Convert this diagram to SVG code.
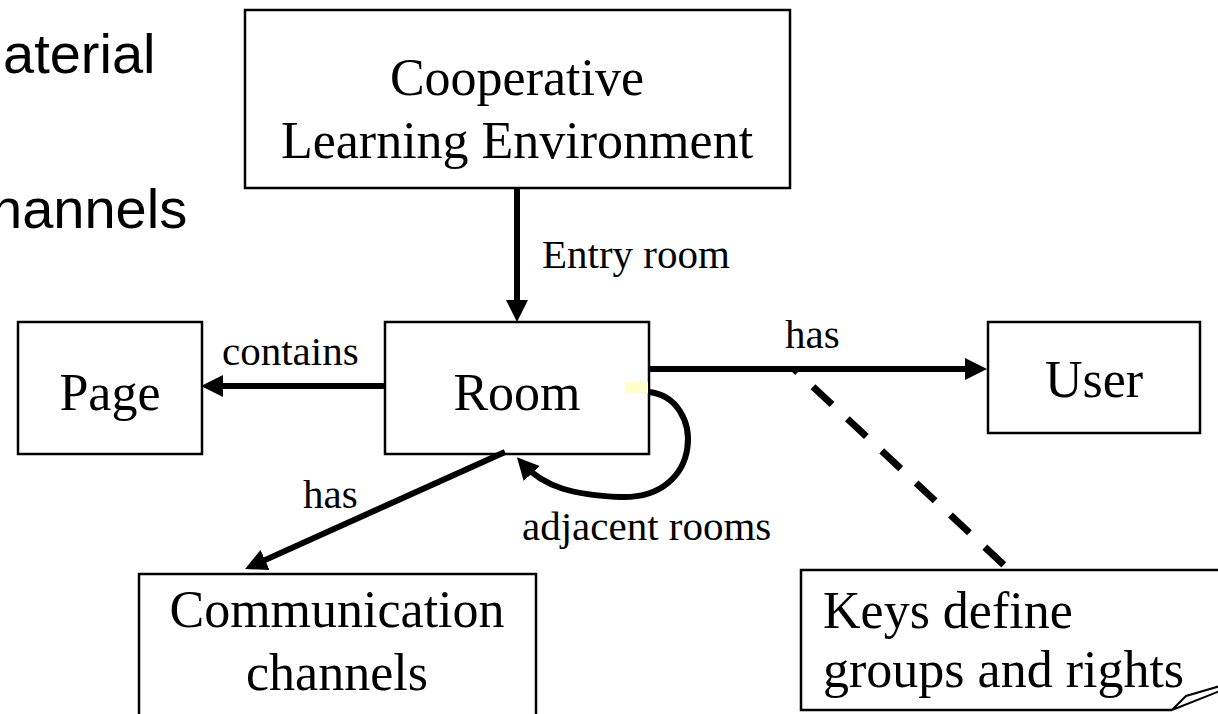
<svg xmlns="http://www.w3.org/2000/svg" width="1218" height="714" viewBox="0 0 1218 714">
<style>
.box{fill:#fff;stroke:#000;stroke-width:2.5}
.nt{font-family:"Liberation Serif","Times New Roman",serif;font-size:52px;fill:#000}
.el{font-family:"Liberation Serif","Times New Roman",serif;font-size:41px;fill:#000}
.bg{font-family:"Liberation Sans",Arial,sans-serif;font-size:56px;fill:#000}
.cn{fill:none;stroke:#000;stroke-width:6}
</style>
<defs>
<marker id="ah" viewBox="0 0 22 22" markerWidth="22" markerHeight="22" refX="13" refY="11" orient="auto" markerUnits="userSpaceOnUse">
<path d="M0,0 L22,11 L0,22 z" fill="#000"/>
</marker>
</defs>
<rect width="1218" height="714" fill="#fff"/>
<g id="bg-text">
<text class="bg" x="3" y="73">aterial</text>
<text class="bg" x="-9" y="228">hannels</text>
</g>
<g id="node-cle">
<rect class="box" x="245" y="10" width="545" height="178"/>
<text class="nt" x="517" y="95" text-anchor="middle">Cooperative</text>
<text class="nt" x="517" y="158" text-anchor="middle">Learning Environment</text>
</g>
<g id="node-room">
<rect class="box" x="385" y="322" width="264" height="132"/>
<text class="nt" x="517" y="410" text-anchor="middle">Room</text>
<rect x="625" y="382" width="23" height="11" fill="#ffffcc"/>
</g>
<g id="node-page">
<rect class="box" x="18" y="322" width="184" height="132"/>
<text class="nt" x="110" y="410" text-anchor="middle">Page</text>
</g>
<g id="node-user">
<rect class="box" x="988" y="322" width="212" height="111"/>
<text class="nt" x="1094" y="397" text-anchor="middle">User</text>
</g>
<g id="node-comm">
<rect class="box" x="139" y="574" width="397" height="160"/>
<text class="nt" x="337" y="627" text-anchor="middle">Communication</text>
<text class="nt" x="337" y="690" text-anchor="middle">channels</text>
</g>
<g id="node-keys">
<path d="M801,570 H1225 V730 H801 Z" fill="#fff"/>
<path d="M1225,570 H801 V710 H1172" fill="none" stroke="#000" stroke-width="2.5"/>
<path d="M1172,710 L1186,696 L1220,686 M1172,710 L1220,691" fill="none" stroke="#000" stroke-width="2"/>
<text class="nt" x="823" y="628">Keys define</text>
<text class="nt" x="823" y="687">groups and rights</text>
</g>
<g id="connectors">
<line class="cn" x1="517" y1="188" x2="517" y2="313" marker-end="url(#ah)"/>
<line class="cn" x1="385" y1="386" x2="210" y2="386" marker-end="url(#ah)"/>
<line class="cn" x1="649" y1="369" x2="978" y2="369" marker-end="url(#ah)"/>
<line class="cn" x1="505" y1="452" x2="253.2" y2="565.3" marker-end="url(#ah)"/>
<path class="cn" d="M649,392 C705,398 705,500 620,497 C575,495 545,488 523,464" marker-end="url(#ah)"/>
<line x1="794" y1="369" x2="1004" y2="565" stroke="#000" stroke-width="7" stroke-dasharray="26 21" stroke-dashoffset="21"/>
<text class="el" x="542" y="268">Entry room</text>
<text class="el" x="222" y="365">contains</text>
<text class="el" x="785" y="348">has</text>
<text class="el" x="303" y="508">has</text>
<text class="el" x="522" y="540">adjacent rooms</text>
</g>
</svg>
